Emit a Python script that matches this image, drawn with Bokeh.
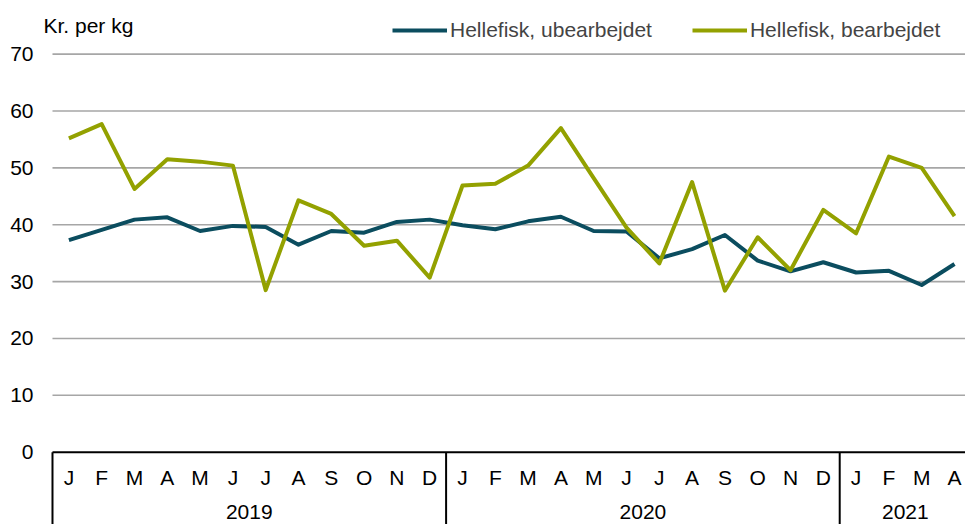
from bokeh.plotting import figure
from bokeh.models import Range1d, Label, Legend, LegendItem
from bokeh.core.properties import value
from bokeh.embed import file_html
from bokeh.resources import INLINE

months = ["J", "F", "M", "A", "M", "J", "J", "A", "S", "O", "N", "D",
          "J", "F", "M", "A", "M", "J", "J", "A", "S", "O", "N", "D",
          "J", "F", "M", "A"]
years = ["2019", "2020", "2021"]
months_per_year = [12, 12, 4]
ubearbejdet = [37.3, 39.1, 40.9, 41.3, 38.9, 39.8, 39.6, 36.5, 38.9, 38.6, 40.5, 40.9,
               39.9, 39.2, 40.6, 41.4, 38.9, 38.8, 34.1, 35.7, 38.2, 33.7, 31.8, 33.4,
               31.6, 31.9, 29.4, 33.1]
bearbejdet = [55.2, 57.7, 46.3, 51.5, 51.1, 50.4, 28.5, 44.3, 41.9, 36.3, 37.2, 30.7,
              46.9, 47.2, 50.4, 57.0, 48.2, 39.5, 33.2, 47.5, 28.4, 37.8, 32.0, 42.6,
              38.5, 52.0, 50.0, 41.5]
y_ticks = [0, 10, 20, 30, 40, 50, 60, 70]
unit_label = "Kr. per kg"
series_names = ["Hellefisk, ubearbejdet", "Hellefisk, bearbejdet"]

FONT = "Liberation Sans"
FS = "21px"
TEAL = "#0B4D5F"
OLIVE = "#93A100"

x = list(range(len(months)))

p = figure(width=965, height=524, output_backend="svg", toolbar_location=None,
           x_axis_type=None, y_axis_type=None,
           min_border_left=0, min_border_right=0, min_border_top=0, min_border_bottom=0)
p.x_range = Range1d(-2.085, 27.335)
p.y_range = Range1d(-12.72, 79.44)
p.outline_line_color = None
p.background_fill_color = "white"
p.border_fill_color = "white"
p.xgrid.visible = False
p.ygrid.visible = False

x_left = -0.5
x_right = 27.5
grid_vals = y_ticks[1:]
p.segment(x0=[x_left] * len(grid_vals), y0=grid_vals, x1=[x_right] * len(grid_vals), y1=grid_vals,
          line_color="#A6A6A6", line_width=1.6)

# y tick labels
p.text(x=[-1.079] * len(y_ticks), y=y_ticks, text=[str(t) for t in y_ticks],
       text_align="right", text_baseline="middle", text_font=value(FONT),
       text_font_size=FS, text_color="black")

# category axis line and separators
p.segment(x0=[x_left], y0=[0], x1=[x_right], y1=[0], line_color="black", line_width=2)
bounds = [-0.5]
for n in months_per_year:
    bounds.append(bounds[-1] + n)
p.segment(x0=bounds, y0=[0] * len(bounds), x1=bounds, y1=[-20] * len(bounds),
          line_color="black", line_width=2)

p.text(x=x, y=[-4.4] * len(x), text=months, text_align="center", text_baseline="middle",
       text_font=value(FONT), text_font_size=FS, text_color="black")
year_centers = [(bounds[i] + bounds[i + 1]) / 2 for i in range(len(years))]
p.text(x=year_centers, y=[-10.6] * len(years), text=years, text_align="center",
       text_baseline="middle", text_font=value(FONT), text_font_size=FS, text_color="black")

r1 = p.line(x, ubearbejdet, line_color=TEAL, line_width=4, line_join="round")
r2 = p.line(x, bearbejdet, line_color=OLIVE, line_width=4, line_join="round")

p.add_layout(Label(x=-0.774, y=75.13, text=unit_label, text_font=FONT, text_font_size=FS,
                   text_baseline="middle", text_color="black"))

legend = Legend(items=[LegendItem(label=series_names[0], renderers=[r1]),
                       LegendItem(label=series_names[1], renderers=[r2])],
                orientation="horizontal", location=(392, 482),
                glyph_width=55, glyph_height=20, label_height=20, label_standoff=3,
                spacing=40, padding=0, margin=0,
                label_text_font=FONT, label_text_font_size=FS,
                background_fill_alpha=0, border_line_color=None)
p.add_layout(legend)

open("out.html", "w").write(file_html(p, INLINE))
